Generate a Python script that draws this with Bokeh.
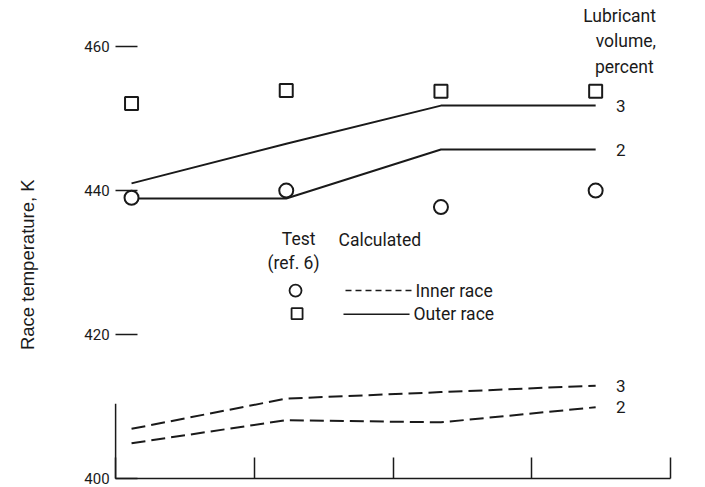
import numpy as np
from bokeh.plotting import figure
from bokeh.models import FixedTicker, Label, Range1d
from bokeh.core.properties import value
from bokeh.embed import file_html
from bokeh.resources import INLINE

# Operating points along the horizontal axis (unlabelled conditions)
x_pts = [0, 1, 2, 3]

# Test data (ref. 6)
test_inner = [439.0, 440.0, 437.7, 440.0]     # circles
test_outer = [452.1, 453.9, 453.8, 453.8]     # squares

# Calculated race temperatures, by lubricant volume (percent)
calc_outer_3 = [441.0, 446.5, 451.8, 451.8]
calc_outer_2 = [438.9, 438.9, 445.7, 445.7]
calc_inner_3 = [406.9, 411.1, 412.0, 412.9]
calc_inner_2 = [404.9, 408.1, 407.8, 409.9]

y_ticks = [400, 420, 440, 460]

# extent of the drawn axes (data units)
x_lo, x_hi = -0.103, 3.484
y_lo = 400
# visible window, leaving room for tick labels and the axis title
view_x = (-0.847, 3.71)
view_y = (398.75, 466.4)

NARROW = "Roboto"
REG = "Liberation Sans"
INK = "#1a1a1a"

p = figure(width=705, height=487, output_backend="svg", toolbar_location=None,
           x_range=Range1d(*view_x), y_range=Range1d(*view_y),
           min_border=0)
p.outline_line_color = None
p.xgrid.visible = False
p.ygrid.visible = False
p.background_fill_color = "white"
p.border_fill_color = "white"

# y axis: tick marks only, pointing into the plot
p.yaxis.fixed_location = x_lo
p.yaxis.ticker = FixedTicker(ticks=y_ticks)
p.yaxis.axis_line_color = None
p.yaxis.major_tick_in = 22
p.yaxis.major_tick_out = 0
p.yaxis.major_tick_line_width = 1.5
p.yaxis.major_tick_line_color = INK
p.yaxis.minor_tick_line_color = None
p.yaxis.major_label_standoff = 6
p.yaxis.major_label_text_font = NARROW
p.yaxis.major_label_text_font_size = "15px"
p.yaxis.major_label_text_color = INK

# x axis: baseline with four equal divisions, no labels
x_ticks = list(np.linspace(x_lo, x_hi, 5))
p.xaxis.fixed_location = y_lo
p.xaxis.bounds = (x_lo, x_hi)
p.xaxis.ticker = FixedTicker(ticks=x_ticks)
p.xaxis.major_label_overrides = {t: "" for t in x_ticks}
p.xaxis.axis_line_width = 1.5
p.xaxis.axis_line_color = INK
p.xaxis.major_tick_in = 21
p.xaxis.major_tick_out = 0
p.xaxis.major_tick_line_width = 1.5
p.xaxis.major_tick_line_color = INK
p.xaxis.minor_tick_line_color = None
p.xaxis.major_label_standoff = 0

# short stub of the left axis above the baseline
p.segment(x0=[x_lo], y0=[y_lo], x1=[x_lo], y1=[410.4], line_color=INK, line_width=1.5)

# calculated curves
for ys in (calc_outer_3, calc_outer_2):
    p.line(x_pts, ys, line_color=INK, line_width=2)
for ys in (calc_inner_3, calc_inner_2):
    p.line(x_pts, ys, line_color=INK, line_width=2, line_dash="14 6")

# curve end labels (lubricant volume)
end_x = [x_pts[-1]] * 4
end_y = [calc_outer_3[-1], calc_outer_2[-1], calc_inner_3[-1], calc_inner_2[-1]]
end_txt = ["3", "2", "3", "2"]
p.text(end_x, end_y, text=end_txt, x_offset=25, text_align="center",
       text_baseline="middle", text_font=value(NARROW), text_font_size="17px",
       text_color=INK)

# test points
p.scatter(x_pts, test_outer, marker="square", size=13, fill_color="white",
          line_color=INK, line_width=2)
p.scatter(x_pts, test_inner, marker="circle", size=14, fill_color="white",
          line_color=INK, line_width=2)

# key
p.scatter([1.06], [426.1], marker="circle", size=12, fill_color="white",
          line_color=INK, line_width=1.8)
p.scatter([1.07], [422.9], marker="square", size=11, fill_color="white",
          line_color=INK, line_width=1.8)
p.line([1.383, 1.816], [426.1, 426.1], line_color=INK, line_width=1.5, line_dash="6 4")
p.line([1.37, 1.797], [422.8, 422.8], line_color=INK, line_width=1.5)

def add_text(x, y, t, align="left", font=NARROW, size="17.5px", angle=0.0):
    p.add_layout(Label(x=x, y=y, text=t, text_align=align, text_baseline="middle",
                       text_font=font, text_font_size=size, text_color=INK,
                       angle=angle))

add_text(1.08, 433.3, "Test", align="center")
add_text(1.047, 429.9, "(ref. 6)", align="center")
add_text(1.338, 433.1, "Calculated")
add_text(1.836, 426.1, "Inner race")
add_text(1.823, 422.8, "Outer race")

add_text(3.39, 464.3, "Lubricant", align="right")
add_text(3.39, 460.8, "volume,", align="right")
add_text(3.375, 457.2, "percent", align="right")

# vertical axis title
add_text(-0.672, 429.7, "Race temperature, K", align="center", font=REG,
         size="18.5px", angle=np.pi / 2)

open("out.html", "w").write(file_html(p, INLINE))
